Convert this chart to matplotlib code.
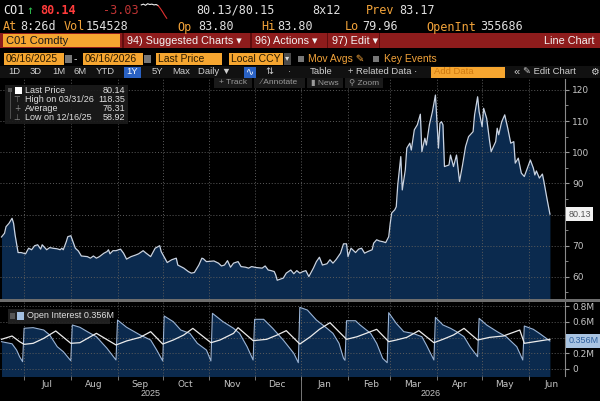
import numpy as np
import matplotlib
matplotlib.use("Agg")
import matplotlib.pyplot as plt
import matplotlib.dates as mdates
import matplotlib.transforms as mtrans
from matplotlib.patches import Rectangle
from matplotlib.ticker import MultipleLocator, FixedLocator

# ---- data ----
start = np.datetime64("2025-06-16")

# CO1 Comdty last price, day offsets from 06/16/2025
price_day = [0, 2, 3, 5, 7, 8, 9, 11, 13, 16,
             18, 20, 22, 24, 26, 27, 30, 32, 34, 37,
             39, 40, 41, 43, 44, 46, 47, 49, 51, 53,
             57, 59, 61, 63, 65, 68, 70, 71, 72, 74,
             76, 79, 81, 83, 86, 89, 91, 94, 96, 99,
             102, 105, 106, 110, 113, 116, 117, 121, 124, 126,
             128, 131, 133, 134, 136, 141, 144, 146, 148, 150,
             152, 154, 157, 159, 162, 164, 166, 169, 173, 175,
             177, 179, 181, 182, 183, 187, 189, 192, 194, 196,
             198, 200, 202, 204, 207, 209, 211, 213, 216, 218,
             220, 222, 225, 227, 229, 230, 232, 235, 237, 239,
             241, 243, 246, 247, 249, 251, 253, 255, 257, 258,
             259, 261, 262, 263, 265, 266, 268, 269, 271, 272,
             274, 276, 278, 279, 281, 282, 284, 286, 288, 290,
             291, 292, 293, 294, 297, 298, 300, 302, 303, 304,
             306, 308, 310, 313, 314, 316, 317, 319, 320, 322,
             324, 325, 328, 329, 330, 332, 334, 336, 338, 340,
             341, 343, 345, 347, 349, 351, 353, 354, 355, 357,
             359, 360, 362, 364]
price = [72.8, 74.0, 76.1, 77.2, 78.8, 77.2, 73.5, 67.8, 67.8, 67.4,
         69.2, 68.7, 70.0, 70.3, 68.9, 70.3, 68.7, 69.4, 69.2, 69.0,
         68.7, 69.2, 68.7, 71.3, 72.9, 73.2, 71.9, 69.2, 68.3, 66.7,
         66.5, 66.0, 66.7, 66.0, 66.5, 67.6, 68.1, 68.7, 67.4, 68.4,
         68.4, 68.9, 67.6, 65.7, 66.5, 67.0, 67.4, 68.4, 67.6, 66.5,
         69.2, 70.0, 68.1, 64.6, 65.5, 66.0, 63.8, 62.8, 61.7, 61.2,
         61.4, 63.8, 66.0, 65.8, 64.9, 65.1, 64.4, 63.5, 63.8, 65.2,
         63.1, 64.4, 64.9, 63.3, 63.1, 62.8, 63.3, 63.0, 62.8, 63.5,
         62.2, 62.0, 61.7, 60.6, 58.92, 59.6, 61.2, 62.2, 61.0, 62.0,
         61.2, 61.7, 62.0, 60.1, 62.8, 64.9, 66.3, 63.8, 64.2, 65.5,
         64.4, 65.5, 67.6, 70.6, 70.6, 66.5, 69.2, 67.8, 68.9, 69.2,
         67.6, 68.1, 68.7, 70.8, 71.9, 71.5, 71.3, 71.0, 72.9, 77.2,
         80.5, 81.5, 82.5, 89.5, 98.6, 87.9, 94.3, 101.3, 102.9, 100.7,
         107.2, 108.8, 112.2, 100.2, 104.5, 102.3, 108.8, 113.0, 118.35, 101.3,
         109.3, 109.8, 108.8, 95.4, 95.9, 99.1, 95.4, 99.1, 94.9, 90.6,
         95.9, 101.8, 105.0, 106.6, 112.0, 117.8, 113.0, 108.2, 114.1, 110.9,
         103.4, 100.2, 103.4, 107.7, 105.6, 109.8, 112.0, 107.7, 102.9, 103.4,
         96.5, 98.1, 93.3, 92.2, 94.9, 97.5, 94.9, 92.7, 94.0, 91.7,
         93.0, 90.6, 85.2, 80.14]

# open interest (millions)
oi_day = [0, 7, 10, 12, 14, 15, 21, 28, 32, 37,
          41, 46, 47, 52, 57, 63, 70, 76, 77, 83,
          92, 99, 103, 107, 108, 114, 119, 125, 130, 136,
          139, 140, 147, 154, 158, 163, 167, 168, 174, 180,
          187, 194, 197, 198, 203, 209, 216, 220, 224, 227,
          228, 229, 235, 238, 245, 249, 253, 256, 257, 262,
          267, 273, 279, 282, 287, 288, 293, 298, 302, 307,
          311, 316, 317, 322, 329, 335, 342, 346, 347, 353,
          357, 364]
oi = [0.347, 0.320, 0.241, 0.156, 0.093, 0.517, 0.525, 0.495, 0.432, 0.283,
      0.220, 0.105, 0.559, 0.530, 0.474, 0.410, 0.263, 0.114, 0.622, 0.530,
      0.432, 0.368, 0.241, 0.102, 0.673, 0.601, 0.495, 0.453, 0.326, 0.241,
      0.102, 0.707, 0.601, 0.517, 0.453, 0.283, 0.114, 0.631, 0.631, 0.517,
      0.368, 0.199, 0.080, 0.783, 0.749, 0.622, 0.517, 0.453, 0.326, 0.135,
      0.110, 0.613, 0.613, 0.559, 0.453, 0.326, 0.135, 0.080, 0.715, 0.580,
      0.474, 0.453, 0.410, 0.305, 0.114, 0.656, 0.559, 0.517, 0.474, 0.410,
      0.283, 0.156, 0.643, 0.559, 0.474, 0.410, 0.283, 0.114, 0.546, 0.504,
      0.453, 0.356]

# second (white) open interest line
oi2_day = [0, 7, 12, 15, 21, 28, 36, 46, 52, 59,
           63, 76, 83, 92, 99, 107, 114, 121, 127, 139,
           145, 154, 157, 167, 176, 183, 189, 198, 205, 211,
           218, 229, 236, 242, 249, 257, 262, 269, 277, 287,
           293, 300, 307, 316, 324, 333, 344, 347, 364]
oi2 = [0.377, 0.419, 0.347, 0.313, 0.326, 0.389, 0.483, 0.326, 0.334, 0.410,
       0.453, 0.305, 0.356, 0.402, 0.474, 0.317, 0.368, 0.432, 0.516, 0.334,
       0.368, 0.453, 0.525, 0.360, 0.377, 0.432, 0.487, 0.317, 0.410, 0.504,
       0.588, 0.377, 0.410, 0.453, 0.504, 0.347, 0.368, 0.402, 0.487, 0.334,
       0.377, 0.432, 0.516, 0.368, 0.402, 0.419, 0.495, 0.326, 0.377]

# intraday sparkline in the header
spark = [83.5, 83.7, 83.4, 83.8, 83.6, 83.7, 83.5, 83.6, 83.3, 82.6, 81.8, 80.9, 80.1]

month_names = ["Jul", "Aug", "Sep", "Oct", "Nov", "Dec",
               "Jan", "Feb", "Mar", "Apr", "May", "Jun"]

price_dates = start + np.array(price_day).astype("timedelta64[D]")
oi_dates = start + np.array(oi_day).astype("timedelta64[D]")
oi2_dates = start + np.array(oi2_day).astype("timedelta64[D]")
month_starts = np.arange(np.datetime64("2025-07"), np.datetime64("2026-07"),
                         dtype="datetime64[M]").astype("datetime64[D]")
month_mids = month_starts + np.timedelta64(15, "D")

# ---- figure ----
W, H = 600, 401
fig = plt.figure(figsize=(6, 4.01), dpi=100, facecolor="black")

UI = ["Liberation Sans", "DejaVu Sans"]
MONO = ["DejaVu Sans Mono", "DejaVu Sans"]
ORANGE = "#f2a33a"
AMBER_BOX = "#f6a630"
FILL = "#0b2a4e"
GRID = "#5c5c5c"


def txt(x, y, s, c="#e0e0e0", size=7.5, ha="left", fam=UI, **kw):
    fig.text(x / W, 1 - y / H, s, color=c, fontsize=size, ha=ha, va="center",
             family=fam, **kw)


def rect(x0, y0, x1, y1, c, z=1, alpha=1.0):
    fig.add_artist(Rectangle((x0 / W, 1 - y1 / H), (x1 - x0) / W, (y1 - y0) / H,
                             transform=fig.transFigure, facecolor=c,
                             edgecolor="none", zorder=z, alpha=alpha))


xl = (start - np.timedelta64(1, "D"), start + np.timedelta64(374, "D"))

# main price panel
ax = fig.add_axes([0, 1 - 299 / H, 565 / W, 220 / H])
ax.set_facecolor("black")
ax.fill_between(price_dates, price, 40, color=FILL, lw=0, zorder=1)
ax.plot(price_dates, price, color="#c9d3e2", lw=0.9, zorder=3)
ax.set_xlim(*xl)
ax.set_ylim(52.9, 123.5)
ax.yaxis.tick_right()
ax.yaxis.set_major_locator(FixedLocator([60, 70, 80, 90, 100, 110, 120]))
ax.yaxis.set_minor_locator(MultipleLocator(5))
ax.set_yticklabels(["60", "70", "", "90", "100", "110", "120"])
ax.tick_params(axis="y", which="major", colors="#9a9a9a", labelcolor="#c4c4c4",
               labelsize=6.5, length=3, pad=2)
ax.tick_params(axis="y", which="minor", colors="#9a9a9a", length=2)
ax.set_xticks(month_starts)
ax.tick_params(axis="x", length=0, labelbottom=False)
ax.grid(True, axis="both", which="major", color=GRID, lw=0.7, ls=(0, (1, 2)))
ax.set_axisbelow(False)
for s in ["top", "left", "bottom"]:
    ax.spines[s].set_visible(False)
ax.spines["right"].set_color("#8a8a8a")
yb = mtrans.blended_transform_factory(ax.transAxes, ax.transData)
ax.text(1.006, 80.13, "80.13", transform=yb, fontsize=6.5, color="#555555",
        va="center", ha="left", family=UI, clip_on=False, zorder=5,
        bbox=dict(boxstyle="square,pad=0.25", fc="#f2f2f2", ec="none"))

# open interest panel
ax2 = fig.add_axes([0, 1 - 376 / H, 565 / W, 74 / H])
ax2.set_facecolor("black")
ax2.fill_between(oi_dates, oi, -1, color=FILL, lw=0, zorder=1)
ax2.plot(oi_dates, oi, color="#9ab4d6", lw=0.8, zorder=3)
ax2.plot(oi2_dates, oi2, color="#ececec", lw=0.9, zorder=4)
ax2.set_xlim(*xl)
ax2.set_ylim(-0.089, 0.851)
ax2.yaxis.tick_right()
ax2.set_yticks([0, 0.2, 0.4, 0.6, 0.8])
ax2.set_yticklabels(["0", "0.2M", "", "0.6M", "0.8M"])
ax2.tick_params(axis="y", colors="#9a9a9a", labelcolor="#c4c4c4",
                labelsize=6.5, length=3, pad=2)
ax2.set_xticks(month_mids)
ax2.set_xticklabels(month_names)
ax2.xaxis.set_minor_locator(FixedLocator(mdates.date2num(month_starts)))
ax2.tick_params(axis="x", which="major", length=0, labelcolor="#c4c4c4",
                labelsize=6.5, pad=3)
ax2.tick_params(axis="x", which="minor", length=3, color="#8a8a8a")
ax2.grid(True, axis="y", color=GRID, lw=0.7, ls=(0, (1, 2)))
ax2.grid(True, axis="x", which="minor", color=GRID, lw=0.7, ls=(0, (1, 2)))
ax2.set_axisbelow(False)
for s in ["top", "left", "bottom"]:
    ax2.spines[s].set_visible(False)
ax2.spines["right"].set_color("#8a8a8a")
yb2 = mtrans.blended_transform_factory(ax2.transAxes, ax2.transData)
ax2.text(1.006, 0.356, "0.356M", transform=yb2, fontsize=6.5, color="#2d5f9e",
         va="center", ha="left", family=UI, clip_on=False, zorder=5,
         bbox=dict(boxstyle="square,pad=0.25", fc="#a9c4e2", ec="none"))

# year labels and separator
xb = mtrans.blended_transform_factory(ax2.transData, ax2.transAxes)
jan1 = np.datetime64("2026-01-01")
ax2.plot([jan1, jan1], [-0.02, -0.32], transform=xb, color="#8a8a8a", lw=0.6,
         clip_on=False)
n0, n1 = ax2.get_xlim()
nj = mdates.date2num(jan1)
ax2.text((n0 + nj) / 2, -0.23, "2025", transform=xb, color="#c4c4c4",
         fontsize=6.5, ha="center", va="center", family=UI)
ax2.text((nj + n1) / 2 - 2, -0.23, "2026", transform=xb,
         color="#c4c4c4", fontsize=6.5, ha="center", va="center", family=UI)

# separator between the panels
rect(0, 299, 600, 302, "#6e6e6e", z=2)

# ---- legends on the panels ----
rect(5, 85, 128, 124, "#1b1b1b", z=2, alpha=0.92)
rect(8, 88, 12, 92, "#555555", z=3)
rect(15, 87, 22, 94, "#ffffff", z=3)
fig.add_artist(plt.Line2D([10 / W, 10 / W], [1 - 92 / H, 1 - 118 / H],
                          color="#555555", lw=0.6, zorder=3))
legend_rows = [("Last Price", "80.14", 90.5), ("High on 03/31/26", "118.35", 99.5),
               ("Average", "76.31", 108.5), ("Low on 12/16/25", "58.92", 117.5)]
for i, (lab, val, yy) in enumerate(legend_rows):
    if i:
        txt(17, yy, ["\u22a4", "+", "\u22a5"][i - 1], c="#8a8a8a", size=5.5,
            ha="center", fam=["DejaVu Sans"])
    txt(25, yy, lab, size=6.5)
    txt(125, yy, val, size=6.5, ha="right")

rect(8, 309, 110, 324, "#222222", z=2, alpha=0.92)
rect(10, 313, 15, 319, "#555555", z=3)
rect(17, 312, 24, 320, "#a3bfe0", z=3)
txt(27, 316, "Open Interest 0.356M", size=6.5)

# toolbar over the chart
for x0, x1, lab in [(214, 252, "+ Track"), (254, 305, "\u2215 Annotate"),
                    (307, 343, "\u25ae News"), (345, 383, "\u26b2 Zoom")]:
    rect(x0, 78, x1, 88, "#1a1a1a", z=2)
    txt((x0 + x1) / 2, 83, lab, c="#9a9a9a", size=6, ha="center",
        fam=["Liberation Sans", "DejaVu Sans"])

# ---- header ----
txt(3, 10, "CO1", c="#e8e8e8", size=8.5, fam=MONO)
txt(26, 10, "\u2191", c="#2fbf4f", size=8.5, fam=MONO)
txt(40, 10, "80.14", c="#ff3b3b", size=8.5, fam=MONO, weight="bold")
txt(103, 10, "-3.03", c="#c03434", size=8.5, fam=MONO)
txt(196, 10, "80.13/80.15", c="#e0e0e0", size=8.5, fam=MONO)
txt(312, 10, "8x12", c="#e0e0e0", size=8.5, fam=MONO)
txt(366, 10, "Prev", c=ORANGE, size=8.5, fam=MONO)
txt(399, 10, "83.17", c="#e0e0e0", size=8.5, fam=MONO)

sp = fig.add_axes([140 / W, 1 - 19 / H, 28 / W, 16 / H])
sp.axis("off")
sp.plot(range(9), spark[:9], color="#f0f0f0", lw=0.8)
sp.plot(range(8, len(spark)), spark[8:], color="#e03030", lw=0.8)

row2 = [(3, "At", ORANGE), (20, "8:26d", "#e0e0e0"), (64, "Vol", ORANGE),
        (86, "154528", "#e0e0e0"), (177, "Op", ORANGE), (198, "83.80", "#e0e0e0"),
        (261, "Hi", ORANGE), (277, "83.80", "#e0e0e0"), (345, "Lo", ORANGE),
        (362, "79.96", "#e0e0e0"), (426, "OpenInt", ORANGE), (480, "355686", "#e0e0e0")]
for x, s, c in row2:
    txt(x, 27, s, c=c, size=8.5, fam=MONO)

# red command bar
rect(0, 33, 600, 48, "#8e1c1c")
rect(3, 34, 120, 47, AMBER_BOX, z=2)
txt(6, 40.5, "C01 Comdty", c="#1a1a1a", size=8)
for xs in [122, 250, 327, 379]:
    rect(xs, 33, xs + 1.5, 48, "#5e0d0d", z=2)
txt(127, 40.5, "94) Suggested Charts \u25be", c="#f4f4f4", size=7.8)
txt(255, 40.5, "96) Actions \u25be", c="#f4f4f4", size=7.8)
txt(332, 40.5, "97) Edit \u25be", c="#f4f4f4", size=7.8)
txt(594, 40.5, "Line Chart", c="#f4f4f4", size=7.8, ha="right")

# date / field row
for x0, x1, lab in [(4, 64, "06/16/2025"), (83, 143, "06/16/2026"),
                    (156, 222, "Last Price"), (229, 283, "Local CCY")]:
    rect(x0, 53, x1, 65, AMBER_BOX, z=2)
    txt(x0 + 2, 59, lab, c="#2a1a00", size=7.5)
for x0 in [65, 144]:
    rect(x0, 55, x0 + 7, 63, "#777777", z=2)
rect(284, 53, 291, 65, "#4a4a4a", z=2)
txt(287.5, 59, "\u25be", c="#dddddd", size=6, ha="center")
txt(75, 59, "-", c="#dddddd", size=7.5, ha="center")
rect(298, 56, 304, 62, "#777777", z=2)
txt(308, 59, "Mov Avgs \u270e", c=ORANGE, size=7.5)
rect(373, 56, 379, 62, "#777777", z=2)
txt(384, 59, "Key Events", c=ORANGE, size=7.5)

# period row
rect(0, 66, 600, 78, "#111111")
for x, lab in [(8, "1D"), (30, "3D"), (52, "1M"), (74, "6M"), (96, "YTD"),
               (152, "5Y"), (172, "Max"), (198, "Daily \u25bc")]:
    txt(x, 72, lab, c="#cfcfcf", size=6.8)
rect(124, 66.5, 141, 77.5, "#2a62c4", z=2)
txt(132.5, 72, "1Y", c="#ffffff", size=6.8, ha="center")
rect(244, 66.5, 256, 77.5, "#2a62c4", z=2)
txt(250, 72, "\u223f", c="#ffffff", size=7, ha="center", fam=["DejaVu Sans"])
txt(265, 72, "\u21c5", c="#cfcfcf", size=6.8, fam=["DejaVu Sans"])
txt(288, 72, "\u00b7", c="#cfcfcf", size=7)
txt(310, 72, "Table", c="#cfcfcf", size=6.8)
txt(348, 72, "+ Related Data \u00b7", c="#cfcfcf", size=6.8)
rect(431, 66.5, 505, 77.5, AMBER_BOX, z=2)
txt(434, 72, "Add Data", c="#d07a10", size=6.8)
txt(513, 72, "\u00ab", c="#cfcfcf", size=8)
txt(523, 72, "\u270e Edit Chart", c="#cfcfcf", size=6.8)
txt(590, 72, "\u2699", c="#cfcfcf", size=7, fam=["DejaVu Sans"])

fig.savefig("out.png", dpi=100, facecolor="black")
